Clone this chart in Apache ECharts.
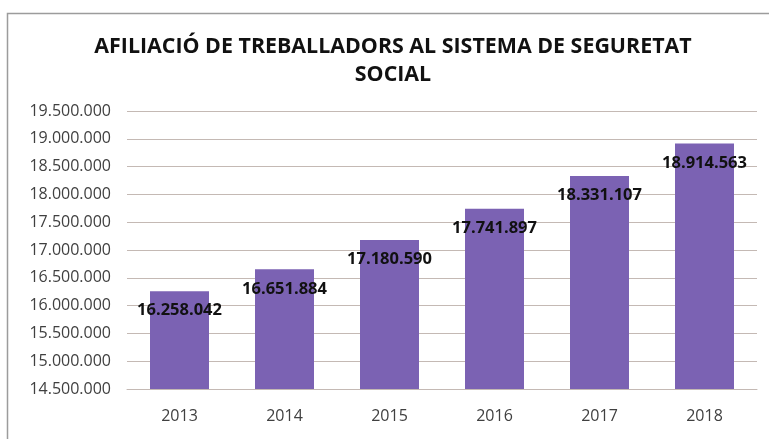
<!DOCTYPE html>
<html>
<head>
<meta charset="utf-8">
<script src="https://cdn.jsdelivr.net/npm/echarts@6/dist/echarts.min.js"></script>
<style>
  html, body { margin: 0; padding: 0; background: #fff; }
  #chart { width: 769px; height: 439px; }
</style>
</head>
<body>
<div id="chart"></div>
<script>
// Afiliació a la Seguretat Social per any
const years = ['2013', '2014', '2015', '2016', '2017', '2018'];
const affiliates = [16258042, 16651884, 17180590, 17741897, 18331107, 18914563];
const yMin = 14500000;
const yMax = 19500000;
const yStep = 500000;

// Format with dots as thousand separators
function fmt(v) {
  return String(Math.round(v)).replace(/\B(?=(\d{3})+(?!\d))/g, '.');
}

const chart = echarts.init(document.getElementById('chart'), null, { renderer: 'canvas' });
chart.setOption({
  animation: false,
  backgroundColor: '#ffffff',
  title: {
    text: 'AFILIACIÓ DE TREBALLADORS AL SISTEMA DE SEGURETAT\nSOCIAL',
    left: 388,
    textAlign: 'center',
    top: 28,
    textStyle: {
      fontFamily: 'Open Sans',
      fontWeight: 'bold',
      fontSize: 21.4,
      lineHeight: 28,
      color: '#111111'
    }
  },
  graphic: [{
    type: 'rect',
    shape: { x: 7.5, y: 13.5, width: 800, height: 440 },
    style: { fill: 'none', stroke: '#9c9c9c', lineWidth: 1.5 },
    silent: true
  }],
  grid: { left: 127, right: 12, top: 111, bottom: 50 },
  xAxis: {
    type: 'category',
    data: years,
    axisLine: { show: true, lineStyle: { color: '#c4b9b4', width: 1 } },
    axisTick: { show: false },
    axisLabel: {
      fontFamily: 'Open Sans',
      fontSize: 16,
      color: '#404040',
      margin: 19
    }
  },
  yAxis: {
    type: 'value',
    min: yMin,
    max: yMax,
    interval: yStep,
    axisLine: { show: false },
    axisTick: { show: false },
    splitLine: { lineStyle: { color: '#c4b9b4', width: 1 } },
    axisLabel: {
      fontFamily: 'Open Sans',
      fontSize: 16,
      color: '#404040',
      margin: 16,
      formatter: fmt
    }
  },
  series: [{
    type: 'bar',
    data: affiliates,
    barWidth: 59,
    itemStyle: { color: '#7b62b3' },
    label: {
      show: true,
      position: 'insideTop',
      distance: 11,
      formatter: p => fmt(p.value),
      fontFamily: 'Open Sans',
      fontWeight: 'bold',
      fontSize: 16.5,
      color: '#111111'
    }
  }]
});
</script>
</body>
</html>
